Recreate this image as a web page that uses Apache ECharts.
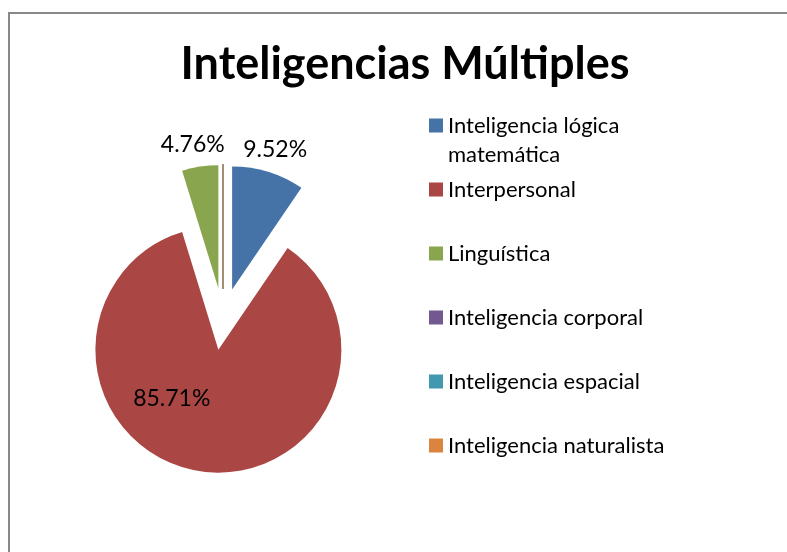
<!DOCTYPE html>
<html>
<head>
<meta charset="utf-8">
<script src="https://cdn.jsdelivr.net/npm/echarts@6/dist/echarts.min.js"></script>
<style>
  html, body { margin: 0; padding: 0; background: #fff; }
  #chart { width: 787px; height: 552px; }
</style>
</head>
<body>
<div id="chart"></div>
<script>
// datos
const categories = ['Inteligencia lógica matemática', 'Interpersonal', 'Linguística', 'Inteligencia corporal', 'Inteligencia espacial', 'Inteligencia naturalista']
const percents = [9.52, 85.71, 4.76, 0, 0, 0]
const colors = ['#4572A7', '#AA4643', '#89A54E', '#71588F', '#4198AF', '#DB843D']

const font = 'Lato'
// desplazamiento de las etiquetas (estilo excel "best fit")
const labelShift = [[24, -78], [-37, -15], [-16, -80]]

const myChart = echarts.init(document.getElementById('chart'))

const pieData = categories.map((name, i) => {
  const item = {
    name,
    value: percents[i],
    selected: true,
    itemStyle: { color: colors[i] }
  }
  if (percents[i] === 0) {
    // las series en cero solo se ven como una linea
    item.itemStyle.borderColor = '#a58c72'
    item.itemStyle.borderWidth = 2
    item.label = { show: false }
  }
  return item
})

// la primera linea del texto queda centrada con el cuadro de la leyenda
function legendText (name) {
  const text = name.length > 26 ? name.replace(/ (\S+)$/, '\n$1') : name + '\n\u00a0'
  return '\u00a0\n' + text
}

myChart.setOption({
  backgroundColor: '#fff',
  color: colors,
  animation: false,
  title: {
    text: 'Inteligencias Múltiples',
    left: 405,
    top: 42,
    padding: 0,
    textAlign: 'center',
    textStyle: {
      fontFamily: font,
      fontWeight: 'bold',
      fontSize: 45,
      color: '#000'
    }
  },
  legend: {
    orient: 'vertical',
    left: 424,
    top: 77,
    icon: 'rect',
    itemWidth: 14,
    itemHeight: 14,
    itemGap: -23,
    selectedMode: false,
    data: categories,
    formatter: legendText,
    itemStyle: { borderWidth: 0 },
    textStyle: {
      fontFamily: font,
      fontSize: 22,
      lineHeight: 29,
      color: '#000'
    }
  },
  graphic: [{
    type: 'rect',
    shape: { x: 9, y: 13, width: 900, height: 700 },
    style: { fill: 'none', stroke: '#888', lineWidth: 2 },
    silent: true
  }],
  series: [{
    type: 'pie',
    center: [223, 319],
    radius: 123,
    startAngle: 90,
    selectedMode: 'multiple',
    selectedOffset: 31,
    avoidLabelOverlap: false,
    data: pieData,
    label: {
      show: true,
      position: 'inside',
      fontFamily: font,
      fontSize: 23,
      color: '#000',
      formatter: p => p.value.toFixed(2) + '%'
    },
    labelLine: { show: false },
    labelLayout: p => {
      const s = labelShift[p.dataIndex]
      return s ? { dx: s[0], dy: s[1] } : {}
    },
    emphasis: { disabled: true }
  }]
})
</script>
</body>
</html>
